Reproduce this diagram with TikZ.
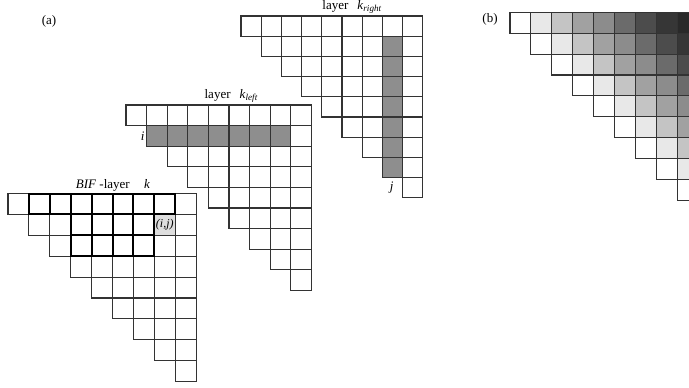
\documentclass[tikz,border=0pt]{standalone}
\usepackage{fontspec}
\setmainfont{Liberation Serif}
\usepackage{tikz}
\usetikzlibrary{positioning}
\definecolor{edge}{HTML}{333333}
\definecolor{mark}{HTML}{8E8E8E}
\definecolor{pick}{HTML}{DEDEDE}
\tikzset{
  cell/.style={draw=edge,line width=1.1pt,fill=white,minimum size=\cs pt,inner sep=0pt,outer sep=0pt},
  hot/.style={cell,fill=mark},
  heavy/.style={draw=black,line width=2pt},
  lbl/.style={font=\fontsize{13}{15}\selectfont,inner sep=1pt},
  small/.style={font=\fontsize{12}{14}\selectfont\itshape}}

\begin{document}
\begin{tikzpicture}[x=1pt,y=-1pt]
\clip (0,0) rectangle (689,388);
\node[lbl] (tag-a) at (49,21) {(a)};
\node[lbl] (tag-b) at (490,19) {(b)};
% BIF-layer k
\def\cs{20.9}
\foreach \r in {0,...,8}
  \foreach \c in {\r,...,8}
    \node[cell] (bif-\r-\c) at ({8+(\c+0.5)*\cs},{193.5+(\r+0.5)*\cs}) {};
\node[cell,fill=pick,small] (ij) at (bif-1-7) {(i,j)};
\foreach \r/\c in {0/1,0/2,0/3,0/4,0/5,0/6,0/7,1/3,1/4,1/5,1/6,2/3,2/4,2/5,2/6}
  \draw[heavy] (bif-\r-\c.north west) rectangle (bif-\r-\c.south east);
\node[lbl,above=1pt of bif-0-5,xshift=-10pt] (bif-name) {\textit{BIF} -layer\hspace{1.1em}\textit{k}};
% layer k_left
\def\cs{20.6}
\foreach \r in {0,...,8}
  \foreach \c in {\r,...,8}
    \node[cell] (kl-\r-\c) at ({126+(\c+0.5)*\cs},{105+(\r+0.5)*\cs}) {};
\foreach \c in {1,...,7}
  \node[hot] (kl-i-\c) at (kl-1-\c) {};
\node[lbl,above=1pt of kl-0-5,xshift=-8pt] (kl-name) {layer\hspace{0.7em}\textit{k}\textsubscript{\textit{left}}};
\node[lbl,left=1pt of kl-1-1] (row-i) {\textit{i}};
% layer k_right
\def\cs{20.2}
\foreach \r in {0,...,8}
  \foreach \c in {\r,...,8}
    \node[cell] (kr-\r-\c) at ({241+(\c+0.5)*\cs},{16+(\r+0.5)*\cs}) {};
\foreach \r in {1,...,7}
  \node[hot] (kr-j-\r) at (kr-\r-7) {};
\node[lbl,above=1pt of kr-0-5] (kr-name) {layer\hspace{0.7em}\textit{k}\textsubscript{\textit{right}}};
\node[lbl,left=8pt of kr-8-8] (col-j) {\textit{j}};
% (b) shading by distance to the diagonal
\def\cs{20.9}
\foreach \r in {0,...,8}
  \foreach \c in {\r,...,8}{
    \pgfmathtruncatemacro\d{\c-\r}
    \pgfmathtruncatemacro\p{{0,9,23,37,45,58,70,79,84}[\d]}
    \node[cell,fill=black!\p] (sh-\r-\c) at ({510+(\c+0.5)*\cs},{12.3+(\r+0.5)*\cs}) {};
  }
\end{tikzpicture}
\end{document}
